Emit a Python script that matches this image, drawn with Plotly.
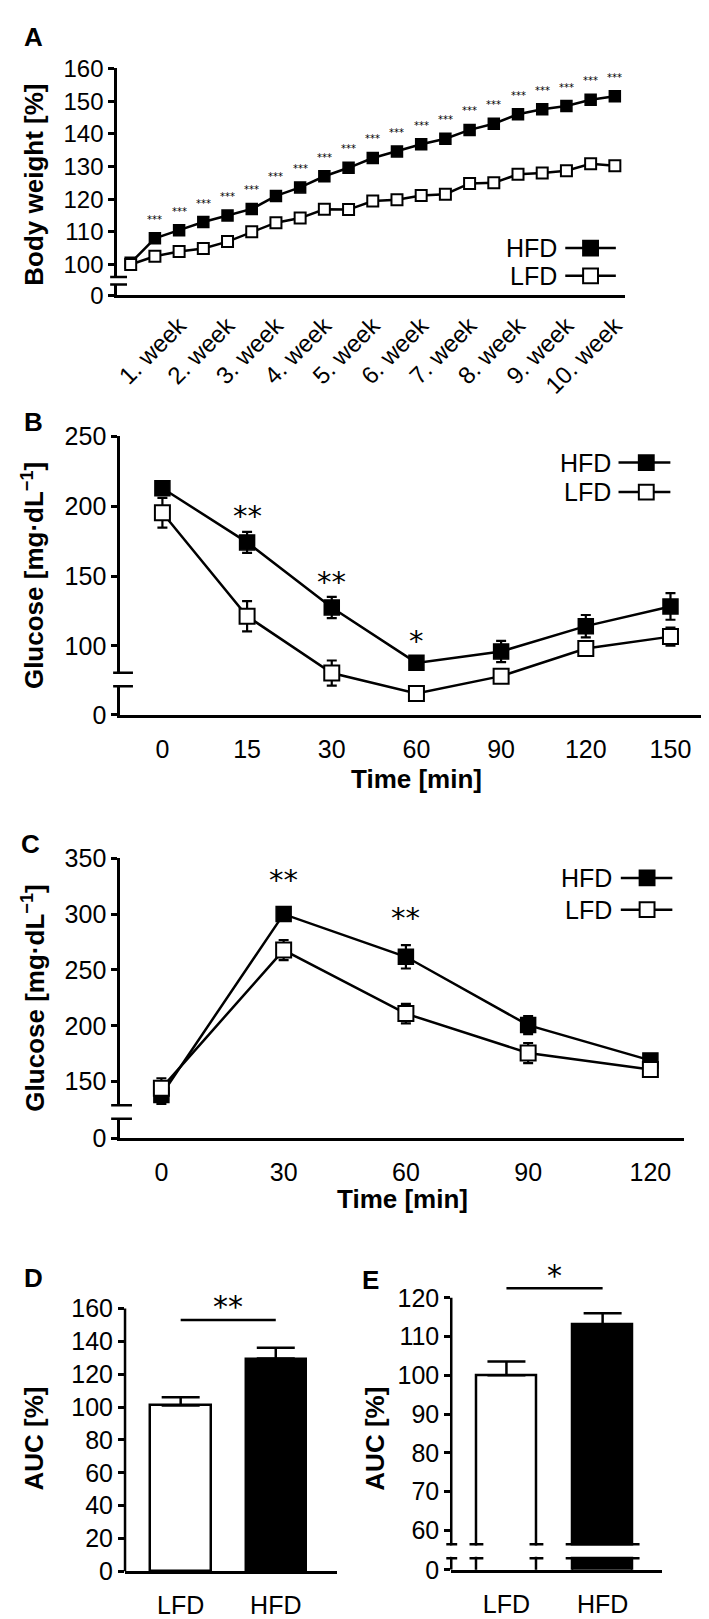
import plotly.graph_objects as go

W, H = 709, 1619
FONT = "Liberation Sans, Arial, sans-serif"
STARFONT = "DejaVu Sans, sans-serif"

# ---------------- Panel A: body weight ----------------
a_pos = [0, 0.5, 1, 1.5, 2, 2.5, 3, 3.5, 4, 4.5, 5, 5.5, 6, 6.5, 7, 7.5, 8, 8.5, 9, 9.5, 10]
a_hfd = [100.5, 108, 110.5, 113, 115, 117, 121, 123.6, 127, 129.6, 132.6, 134.6,
         136.8, 138.5, 141.2, 143.1, 146, 147.5, 148.5, 150.4, 151.5]
a_lfd = [100, 102.5, 104, 104.9, 107, 110, 112.8, 114.2, 116.9, 116.8, 119.4, 119.8,
         121.1, 121.5, 124.8, 125, 127.6, 128, 128.7, 130.8, 130.2]
a_sig = ["", "***", "***", "***", "***", "***", "***", "***", "***", "***", "***",
         "***", "***", "***", "***", "***", "***", "***", "***", "***", "***"]
a_week_ticks = [1, 2, 3, 4, 5, 6, 7, 8, 9, 10]
a_week_labels = ["1. week", "2. week", "3. week", "4. week", "5. week",
                 "6. week", "7. week", "8. week", "9. week", "10. week"]
a_ytick_vals = [90.6, 100, 110, 120, 130, 140, 150, 160]
a_ytick_text = ["0", "100", "110", "120", "130", "140", "150", "160"]
a_break = [93.9, 96.2]

# ---------------- Panel B: ITT ----------------
b_time = ["0", "15", "30", "60", "90", "120", "150"]
b_idx = [0, 1, 2, 3, 4, 5, 6]
b_hfd = [212.9, 174.1, 127.5, 87.8, 96.0, 114.1, 128.2]
b_hfd_err = [5, 7.5, 7.6, 4.5, 7.6, 8, 9.5]
b_lfd = [195.3, 121.2, 80.5, 65.9, 78.3, 98.1, 106.6]
b_lfd_err = [10.6, 10.8, 9, 3, 3, 4, 6.5]
b_sig = ["", "**", "**", "*", "", "", ""]
b_sig_y = [None, 198, 151, 108.7, None, None, None]
b_ytick_vals = [50.6, 100, 150, 200, 250]
b_ytick_text = ["0", "100", "150", "200", "250"]
b_break = [71.1, 80.8]

# ---------------- Panel C: GTT ----------------
c_time = ["0", "30", "60", "90", "120"]
c_idx = [0, 1, 2, 3, 4]
c_hfd = [138, 300, 261.8, 200.6, 169]
c_hfd_err = [8, 4, 10.5, 8, 5]
c_lfd = [144, 267.8, 210.9, 175.6, 160.9]
c_lfd_err = [9, 9, 8.8, 9, 4]
c_sig = ["", "**", "**", "", ""]
c_sig_y = [None, 336.5, 303, None, None]
c_ytick_vals = [99.2, 150, 200, 250, 300, 350]
c_ytick_text = ["0", "150", "200", "250", "300", "350"]
c_break = [116.8, 128.9]

# ---------------- Panel D / E: AUC ----------------
groups = ["LFD", "HFD"]
g_idx = [0, 1]
d_auc = [101, 129.5]
d_err = [5, 6.5]
d_sig_line = 153
d_sig_star = 165.4
d_ytick_vals = [0, 20, 40, 60, 80, 100, 120, 140, 160]
d_ytick_text = ["0", "20", "40", "60", "80", "100", "120", "140", "160"]
e_auc = [100, 113.2]
e_err = [3.6, 2.8]
e_sig_line = 122.5
e_sig_star = 127.7
e_ytick_vals = [49.8, 60, 70, 80, 90, 100, 110, 120]
e_ytick_text = ["0", "60", "70", "80", "90", "100", "110", "120"]
e_break = [52.8, 56.4]
bar_colors = ["white", "black"]


def fx(p):
    return p / W


def fy(p):
    return 1 - p / H


def yaxis_style(domain_px, rng, tv, tt, anchor, size=24, showline=True):
    return dict(domain=[fy(domain_px[0]), fy(domain_px[1])], range=rng, anchor=anchor,
                showline=showline, linecolor="black", linewidth=2.5, showgrid=False,
                zeroline=False, ticks="outside", ticklen=6, tickwidth=2.5,
                tickcolor="black", tickvals=tv, ticktext=tt,
                tickfont=dict(family=FONT, size=size, color="black"))


def xaxis_style(domain_px, rng, tv, tt, anchor, size=25, angle=0, ticklen=10):
    return dict(domain=[fx(domain_px[0]), fx(domain_px[1])], range=rng, anchor=anchor,
                showline=True, linecolor="black", linewidth=2.5, showgrid=False,
                zeroline=False, ticks="outside", ticklen=ticklen, tickwidth=1,
                tickcolor="rgba(0,0,0,0)", tickvals=tv, ticktext=tt, tickangle=angle,
                tickfont=dict(family=FONT, size=size, color="black"))


fig = go.Figure()


def line_pair(x, hfd, lfd, xa, ya, msize, herr=None, lerr=None):
    common = dict(mode="lines+markers", xaxis=xa, yaxis=ya, cliponaxis=False,
                  showlegend=False, line=dict(color="black", width=2.5))
    ekw = lambda e: None if e is None else dict(type="data", array=e, color="black",
                                                 thickness=2.2, width=5)
    fig.add_trace(go.Scatter(x=x, y=hfd, name="HFD",
                             marker=dict(symbol="square", size=msize, color="black",
                                         line=dict(color="black", width=1.5)),
                             error_y=ekw(herr), **common))
    fig.add_trace(go.Scatter(x=x, y=lfd, name="LFD",
                             marker=dict(symbol="square", size=msize, color="white",
                                         line=dict(color="black", width=2)),
                             error_y=ekw(lerr), **common))


line_pair(a_pos, a_hfd, a_lfd, "x", "y", 11)
line_pair(b_idx, b_hfd, b_lfd, "x2", "y2", 15, b_hfd_err, b_lfd_err)
line_pair(c_idx, c_hfd, c_lfd, "x3", "y3", 15, c_hfd_err, c_lfd_err)

for xa, ya, vals, errs, wdt in [("x4", "y4", d_auc, d_err, 0.635), ("x5", "y5", e_auc, e_err, 0.624)]:
    fig.add_trace(go.Bar(x=g_idx, y=vals, width=wdt, xaxis=xa, yaxis=ya, showlegend=False,
                         marker=dict(color=bar_colors, line=dict(color="black", width=2.5)),
                         error_y=dict(type="data", symmetric=False, array=errs,
                                      arrayminus=[0, 0], color="black", thickness=2.5, width=19)))

# axes (pixel positions of plot areas)
A_dom_x, A_dom_y = (107, 619), (278, 47.3)
B_dom_x, B_dom_y = (110, 709), (705, 421.7)
C_dom_x, C_dom_y = (110, 679), (1136, 851)
D_dom_x, D_dom_y = (115, 329), (1576.7, 1292.3)   # range extended to 170 (axis line drawn to 160)
E_dom_x, E_dom_y = (444, 657), (1575, 1258.9)     # range extended to 130 (axis line drawn to 120)

fig.update_layout(
    width=W, height=H, margin=dict(l=0, r=0, t=0, b=0),
    paper_bgcolor="white", plot_bgcolor="white", showlegend=False,
    bargap=0,
    xaxis=xaxis_style(A_dom_x, [-0.281, 10.205], a_week_ticks, a_week_labels, "y",
                      size=24, angle=-45, ticklen=4),
    yaxis=yaxis_style(A_dom_y, [90.6, 160], a_ytick_vals, a_ytick_text, "x"),
    xaxis2=xaxis_style(B_dom_x, [-0.5, 6.514], b_idx, b_time, "y2"),
    yaxis2=yaxis_style(B_dom_y, [50.6, 250], b_ytick_vals, b_ytick_text, "x2", 25),
    xaxis3=xaxis_style(C_dom_x, [-0.338, 4.277], c_idx, c_time, "y3"),
    yaxis3=yaxis_style(C_dom_y, [99.2, 350], c_ytick_vals, c_ytick_text, "x3", 25),
    xaxis4=xaxis_style(D_dom_x, [-0.585, 1.646], g_idx, groups, "y4"),
    yaxis4=yaxis_style(D_dom_y, [0, 170], d_ytick_vals, d_ytick_text, "x4", 25, showline=False),
    xaxis5=xaxis_style(E_dom_x, [-0.574, 1.622], g_idx, groups, "y5"),
    yaxis5=yaxis_style(E_dom_y, [49.8, 130], e_ytick_vals, e_ytick_text, "x5", 25, showline=False),
)

shapes = []
ann = []

# y-axis lines for D and E (only up to the top tick)
shapes.append(dict(type="line", xref="paper", yref="y4", x0=fx(D_dom_x[0]), x1=fx(D_dom_x[0]),
                   y0=d_ytick_vals[0], y1=d_ytick_vals[-1], line=dict(color="black", width=2.5)))
shapes.append(dict(type="line", xref="paper", yref="y5", x0=fx(E_dom_x[0]), x1=fx(E_dom_x[0]),
                   y0=e_ytick_vals[0], y1=e_ytick_vals[-1], line=dict(color="black", width=2.5)))


def axis_break(axis_px, yref, brk, left=7, right=12):
    shapes.append(dict(type="rect", xref="paper", yref=yref, x0=fx(axis_px - 5), x1=fx(axis_px + 5),
                       y0=brk[0], y1=brk[1], fillcolor="white", line=dict(width=0), layer="above"))
    for b in brk:
        shapes.append(dict(type="line", xref="paper", yref=yref, x0=fx(axis_px - left),
                           x1=fx(axis_px + right), y0=b, y1=b,
                           line=dict(color="black", width=2.5), layer="above"))


axis_break(A_dom_x[0], "y", a_break, 7, 10)
axis_break(B_dom_x[0], "y2", b_break, 7, 13)
axis_break(C_dom_x[0], "y3", c_break, 9, 12)

# E: break through the bars
e_w = 0.624
e_ext = 0.072
shapes.append(dict(type="rect", xref="x5", yref="y5", x0=-0.574, x1=1 + e_w / 2 + e_ext + 0.02,
                   y0=e_break[0] + 0.35, y1=e_break[1] - 0.35, fillcolor="white",
                   line=dict(width=0), layer="above"))
shapes.append(dict(type="rect", xref="paper", yref="y5", x0=fx(E_dom_x[0] - 5), x1=fx(E_dom_x[0] + 5),
                   y0=e_break[0] + 0.35, y1=e_break[1] - 0.35, fillcolor="white",
                   line=dict(width=0), layer="above"))
for b in e_break:
    shapes.append(dict(type="line", xref="paper", yref="y5", x0=fx(E_dom_x[0] - 5),
                       x1=fx(E_dom_x[0] + 6), y0=b, y1=b, line=dict(color="black", width=2.5),
                       layer="above"))
    for edge in (g_idx[0] - e_w / 2, g_idx[0] + e_w / 2):
        shapes.append(dict(type="line", xref="x5", yref="y5", x0=edge - e_ext, x1=edge + e_ext,
                           y0=b, y1=b, line=dict(color="black", width=2.5), layer="above"))
    shapes.append(dict(type="line", xref="x5", yref="y5", x0=g_idx[1] - e_w / 2 - e_ext,
                       x1=g_idx[1] + e_w / 2 + e_ext, y0=b, y1=b,
                       line=dict(color="black", width=2.5), layer="above"))

# significance bars D/E
shapes.append(dict(type="line", xref="x4", yref="y4", x0=g_idx[0], x1=g_idx[1], y0=d_sig_line,
                   y1=d_sig_line, line=dict(color="black", width=2.5)))
shapes.append(dict(type="line", xref="x5", yref="y5", x0=g_idx[0], x1=g_idx[1], y0=e_sig_line,
                   y1=e_sig_line, line=dict(color="black", width=2.5)))
ann.append(dict(xref="x4", yref="y4", x=0.5, y=d_sig_star, text="**", showarrow=False,
                font=dict(family=STARFONT, size=30, color="black"), yshift=-7))
ann.append(dict(xref="x5", yref="y5", x=0.5, y=e_sig_star, text="*", showarrow=False,
                font=dict(family=STARFONT, size=30, color="black"), yshift=-7))

# stars on line panels
for i, s in enumerate(a_sig):
    if s:
        ann.append(dict(xref="x", yref="y", x=a_pos[i], y=a_hfd[i], text=s, showarrow=False,
                        yshift=19, font=dict(family=STARFONT, size=10, color="black")))
for xs, ys, ss, xr, yr in [(b_idx, b_sig_y, b_sig, "x2", "y2"), (c_idx, c_sig_y, c_sig, "x3", "y3")]:
    for i, s in enumerate(ss):
        if s:
            ann.append(dict(xref=xr, yref=yr, x=xs[i], y=ys[i], text=s, showarrow=False,
                            yshift=-7, font=dict(family=STARFONT, size=29, color="black")))


# legends (text + sample line + marker)
def legend(text_right, line_x0, line_x1, marker_cx, ys, msize, fsize):
    for name, yy, fill in [("HFD", ys[0], "black"), ("LFD", ys[1], "white")]:
        ann.append(dict(xref="paper", yref="paper", x=fx(text_right), y=fy(yy), text=name,
                        showarrow=False, xanchor="right", yanchor="middle",
                        font=dict(family=FONT, size=fsize, color="black")))
        shapes.append(dict(type="line", xref="paper", yref="paper", x0=fx(line_x0), x1=fx(line_x1),
                           y0=fy(yy), y1=fy(yy), line=dict(color="black", width=2.5)))
        h = msize / 2
        shapes.append(dict(type="rect", xref="paper", yref="paper", x0=fx(marker_cx - h),
                           x1=fx(marker_cx + h), y0=fy(yy + h), y1=fy(yy - h), fillcolor=fill,
                           line=dict(color="black", width=2)))


legend(553, 559, 610, 584.5, (230, 258.3), 15, 25)
legend(607, 612.7, 665, 640.7, (448.3, 478.3), 15, 25)
legend(608, 615, 667, 641.5, (871, 903.3), 15, 25)

# panel letters
for t, x, y in [("A", 22.6, 15), ("B", 22.6, 406.7), ("C", 20, 836.7), ("D", 23, 1278), ("E", 363, 1280)]:
    ann.append(dict(xref="paper", yref="paper", x=fx(x), y=fy(y), text="<b>%s</b>" % t,
                    showarrow=False, xanchor="center", yanchor="middle",
                    font=dict(family=FONT, size=26, color="black")))

# axis titles
for t, x, y, ang in [("Body weight [%]", 23, 165.8, -90),
                     ("Glucose [mg·dL<sup>−1</sup>]", 22, 563, -90),
                     ("Glucose [mg·dL<sup>−1</sup>]", 23, 993, -90),
                     ("AUC [%]", 23, 1441.7, -90),
                     ("AUC [%]", 367, 1441.7, -90),
                     ("Time [min]", 409, 770, 0),
                     ("Time [min]", 395, 1198, 0)]:
    ann.append(dict(xref="paper", yref="paper", x=fx(x), y=fy(y), text="<b>%s</b>" % t,
                    showarrow=False, xanchor="center", yanchor="middle", textangle=ang,
                    font=dict(family=FONT, size=26, color="black")))

fig.update_layout(shapes=shapes, annotations=ann)
fig.write_html("out.html")
